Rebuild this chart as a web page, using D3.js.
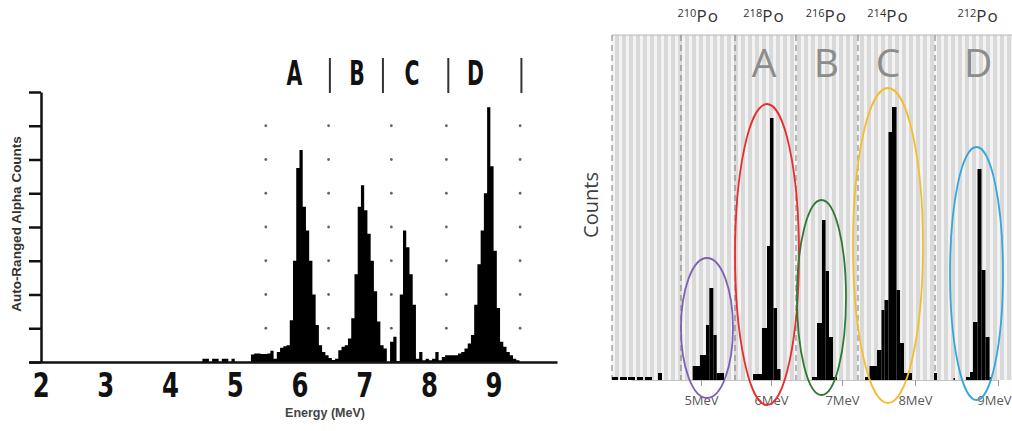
<!DOCTYPE html>
<html lang="en">
<head>
<meta charset="utf-8">
<title>Alpha spectrum</title>
<script src="https://cdn.jsdelivr.net/npm/d3@7"></script>
<style>
  body { margin: 0; background: #fff; }
  svg { display: block; }
</style>
</head>
<body>
<svg id="chart" width="1012" height="431"></svg>
<script>
// ---- left panel : detector spectrum ----
var leftStart = 4.5, leftStep = 0.05;   // bin start (MeV) and bin width
var leftCounts = [
  0.1, 0.1, 0, 0.1, 0.1, 0, 0.1, 0.1, 0, 0.1,            // 4.50 - 4.95
  0, 0, 0, 0, 0, 0.22, 0.25, 0.25, 0.24, 0.24,             // 5.00 - 5.45
  0.25, 0.33, 0.1, 0.3, 0.42, 0.47, 0.5, 1.24, 3.0, 5.75,  // 5.50 - 5.95
  6.28, 4.6, 3.9, 3.0, 2.0, 1.1, 0.5, 0.3, 0.2, 0.12,      // 6.00 - 6.45
  0.06, 0.1, 0.35, 0.45, 0.5, 0.7, 1.3, 2.6, 4.6, 5.24,    // 6.50 - 6.95
  4.5, 3.8, 3.0, 2.1, 1.2, 0.5, 0.4, 0, 0.6, 0.75,         // 7.00 - 7.45
  0.02, 2.0, 3.9, 3.4, 2.6, 1.7, 0.1, 0.3, 0.05, 0.1,      // 7.50 - 7.95
  0.05, 0.1, 0.3, 0.05, 0.15, 0.2, 0.2, 0.2, 0.2, 0.25,    // 8.00 - 8.45
  0.3, 0.4, 0.55, 0.8, 1.7, 2.9, 3.9, 5.0, 7.55, 5.8,      // 8.50 - 8.95
  3.3, 1.6, 0.6, 0.45, 0.3, 0.2, 0.1, 0.05, 0              // 9.00 - 9.40
];
var leftTicks = [2, 3, 4, 5, 6, 7, 8, 9];
var leftGrid = [5.48, 6.45, 7.42, 8.27, 9.41];
var leftSplits = [6.47, 7.29, 8.30, 9.43];
var leftLetters = ["A", "B", "C", "D"];
var leftLetterAt = [5.92, 6.89, 7.74, 8.72];

// ---- right panel : binned histogram ----
var binLo = [3.729, 3.843, 3.957, 4.086, 4.2, 4.386,
  4.881, 4.986, 5.071, 5.119, 5.176, 5.224,
  5.743, 5.871, 5.943, 5.986, 6.035, 6.085,
  6.577, 6.648, 6.718, 6.768, 6.817, 6.873,
  7.315, 7.377, 7.479, 7.541, 7.582, 7.637, 7.685, 7.747, 7.795, 7.849,
  8.229, 8.464,
  8.614, 8.663, 8.699, 8.753, 8.801, 8.849, 8.898];
var binHi = [3.814, 3.943, 4.057, 4.171, 4.3, 4.443,
  4.986, 5.071, 5.119, 5.176, 5.224, 5.329,
  5.871, 5.943, 5.986, 6.035, 6.085, 6.134,
  6.648, 6.718, 6.768, 6.817, 6.873, 6.930,
  7.377, 7.479, 7.541, 7.582, 7.637, 7.685, 7.747, 7.795, 7.849, 7.959,
  8.265, 8.482,
  8.663, 8.699, 8.753, 8.801, 8.849, 8.898, 8.928];
var binCount = [3, 3, 3, 3, 3, 7,
  14, 25, 55, 92, 45, 7,
  6, 52, 134, 262, 72, 11,
  3, 57, 160, 109, 43, 3,
  3, 14, 30, 70, 80, 248, 273, 90, 37, 7,
  7, 2,
  3, 8, 58, 211, 110, 43, 3];
var isotopes = ["210", "218", "216", "214", "212"];
var isotopeAt = [4.96, 5.9, 6.78, 7.63, 8.76];
var regionLetters = ["", "A", "B", "C", "D"];
var regionEdges = [3.729, 4.714, 5.486, 6.352, 7.219, 8.241];
var mevTicks = [5, 6, 7, 8, 9];
// ellipses round each peak: left/right (MeV), top/bottom (counts)
var ringLeft = [4.714, 5.486, 6.366, 7.151, 8.422];
var ringRight = [5.457, 6.394, 7.055, 8.096, 9.06];
var ringTop = [122, 276, 180, 292, 233];
var ringBottom = [-18, -25, -15, -23, -20];

var ringColors = ["#7d5fb3", "#ec2b2b", "#2f7a34", "#f3bd30", "#36a7dd"];

var svg = d3.select("#chart");

// ================= left =================
var xl = d3.scaleLinear().domain([1.82, 9.98]).range([29, 557]);
var yl = d3.scaleLinear().domain([0, 8]).range([362, 92]);

var left = svg.append("g");

// dotted guides
leftGrid.forEach(function(e) {
  left.selectAll(null)
    .data(d3.range(1, 8))
    .enter().append("circle")
    .attr("cx", xl(e))
    .attr("cy", function(d) { return yl(d); })
    .attr("r", 1.4)
    .attr("fill", "#666");
});

// spectrum
var specData = leftCounts.map(function(c, i) { return { e: leftStart + i * leftStep, c: c }; });
specData.push({ e: leftStart + leftCounts.length * leftStep, c: 0 });
var area = d3.area()
  .x(function(d) { return xl(d.e); })
  .y0(yl(0))
  .y1(function(d) { return yl(d.c); })
  .curve(d3.curveStepAfter);
left.append("path").datum(specData).attr("d", area).attr("fill", "#000");

// y axis
var yAxis = left.append("g")
  .attr("transform", "translate(41,0)")
  .call(d3.axisLeft(yl).ticks(8).tickSize(12).tickSizeOuter(0).tickFormat(""));
yAxis.selectAll("path, line").attr("stroke", "#111").attr("stroke-width", 2.5);

// x axis
var xAxis = left.append("g")
  .attr("transform", "translate(0,362)")
  .call(d3.axisBottom(xl).tickValues(leftTicks).tickSize(0).tickSizeOuter(0));
xAxis.select(".domain").attr("stroke", "#111").attr("stroke-width", 2.5);
xAxis.selectAll("text")
  .attr("y", 35).attr("dy", 0)
  .attr("transform", "scale(0.74,1)")
  .style("font-family", "'DejaVu Sans', sans-serif")
  .style("font-weight", "bold")
  .style("font-size", "33px")
  .attr("fill", "#111");

// region letters and separators
left.selectAll(".lt")
  .data(leftLetters)
  .enter().append("text")
  .attr("transform", function(d, i) { return "translate(" + xl(leftLetterAt[i]) + ",85) scale(0.6,1)"; })
  .attr("text-anchor", "middle")
  .style("font-family", "'DejaVu Sans', sans-serif")
  .style("font-weight", "bold")
  .style("font-size", "34px")
  .attr("fill", "#111")
  .text(function(d) { return d; });

left.selectAll(".sep")
  .data(leftSplits)
  .enter().append("line")
  .attr("x1", function(d) { return xl(d); })
  .attr("x2", function(d) { return xl(d); })
  .attr("y1", 58).attr("y2", 93)
  .attr("stroke", "#333").attr("stroke-width", 2);

left.append("text")
  .attr("x", 325).attr("y", 417)
  .attr("text-anchor", "middle")
  .style("font-family", "'Liberation Sans', Arial, sans-serif")
  .style("font-weight", "bold")
  .style("font-size", "12.5px")
  .attr("fill", "#444")
  .text("Energy (MeV)");

left.append("text")
  .attr("transform", "translate(21,224) rotate(-90)")
  .attr("text-anchor", "middle")
  .style("font-family", "'Liberation Sans', Arial, sans-serif")
  .style("font-weight", "bold")
  .style("font-size", "13.5px")
  .attr("fill", "#333")
  .text("Auto-Ranged Alpha Counts");

// ================= right =================
var xr = d3.scaleLinear().domain([4, 5, 6, 7, 8, 9]).range([631, 701, 771, 842, 915, 998]);
var yr = d3.scaleLinear().domain([0, 345]).range([380, 35]);

var right = svg.append("g");

var pat = svg.append("defs").append("pattern")
  .attr("id", "stripes")
  .attr("patternUnits", "userSpaceOnUse")
  .attr("x", 612).attr("y", 0)
  .attr("width", 7).attr("height", 10);
pat.append("rect").attr("width", 7).attr("height", 10).attr("fill", "#f3f3f3");
pat.append("rect").attr("x", 3).attr("width", 4).attr("height", 10).attr("fill", "#d9d9d9");

right.append("rect")
  .attr("x", xr(regionEdges[0])).attr("y", yr(345))
  .attr("width", 1012 - xr(regionEdges[0]))
  .attr("height", yr(0) - yr(345))
  .attr("fill", "url(#stripes)");

right.append("line")
  .attr("x1", xr(regionEdges[0])).attr("x2", 1012)
  .attr("y1", yr(345)).attr("y2", yr(345))
  .attr("stroke", "#b8b8b8").attr("stroke-width", 1);

right.selectAll(".edge")
  .data(regionEdges)
  .enter().append("line")
  .attr("x1", function(d) { return xr(d); })
  .attr("x2", function(d) { return xr(d); })
  .attr("y1", yr(345)).attr("y2", yr(0))
  .attr("stroke", "#7a7a7a").attr("stroke-width", 1)
  .attr("stroke-dasharray", "6,4");

right.selectAll(".bar")
  .data(binCount)
  .enter().append("rect")
  .attr("x", function(d, i) { return xr(binLo[i]); })
  .attr("width", function(d, i) { return xr(binHi[i]) - xr(binLo[i]); })
  .attr("y", function(d) { return yr(d); })
  .attr("height", function(d) { return yr(0) - yr(d); })
  .attr("fill", "#000");

// axis
var rAxis = right.append("g")
  .attr("transform", "translate(0," + yr(0) + ")")
  .call(d3.axisBottom(xr).tickValues(mevTicks).tickSize(6).tickSizeOuter(0)
    .tickFormat(function(d) { return d + "MeV"; }));
rAxis.select(".domain").attr("stroke", "#c4c4c4");
rAxis.selectAll("line").attr("stroke", "#9a9a9a");
rAxis.selectAll("text")
  .attr("y", 25).attr("dy", 0)
  .style("font-family", "'Open Sans', sans-serif")
  .style("font-size", "13px")
  .attr("fill", "#595959");
// last label sits at the right edge; keep it inside the page
rAxis.selectAll("text")
  .filter(function(d) { return d === mevTicks[mevTicks.length - 1]; })
  .attr("text-anchor", "end")
  .attr("x", 1011 - xr(mevTicks[mevTicks.length - 1]));

// ellipses
right.selectAll(".ring")
  .data(ringLeft)
  .enter().append("ellipse")
  .attr("cx", function(d, i) { return (xr(ringLeft[i]) + xr(ringRight[i])) / 2; })
  .attr("rx", function(d, i) { return (xr(ringRight[i]) - xr(ringLeft[i])) / 2; })
  .attr("cy", function(d, i) { return (yr(ringTop[i]) + yr(ringBottom[i])) / 2; })
  .attr("ry", function(d, i) { return (yr(ringBottom[i]) - yr(ringTop[i])) / 2; })
  .attr("fill", "none")
  .attr("stroke", function(d, i) { return ringColors[i]; })
  .attr("stroke-width", 1.8);

// isotope labels
var iso = right.selectAll(".iso")
  .data(isotopes)
  .enter().append("text")
  .attr("x", function(d, i) { return xr(isotopeAt[i]); })
  .attr("y", 22)
  .attr("text-anchor", "middle")
  .style("font-family", "'Open Sans', sans-serif")
  .attr("fill", "#333");
iso.append("tspan").attr("dy", -5).style("font-size", "11px").text(function(d) { return d; });
iso.append("tspan").attr("dy", 5).style("font-size", "17px").style("letter-spacing", "1px").text("Po");

right.selectAll(".big")
  .data(regionLetters)
  .enter().append("text")
  .attr("x", function(d, i) { return xr(isotopeAt[i]); })
  .attr("y", 77)
  .attr("text-anchor", "middle")
  .style("font-family", "'Open Sans', sans-serif")
  .style("font-size", "39px")
  .attr("fill", "#8c8c8c")
  .text(function(d) { return d; });

right.append("text")
  .attr("transform", "translate(598,205) rotate(-90)")
  .attr("text-anchor", "middle")
  .style("font-family", "'Open Sans', sans-serif")
  .style("font-size", "20px")
  .attr("fill", "#404040")
  .text("Counts");
</script>
</body>
</html>
